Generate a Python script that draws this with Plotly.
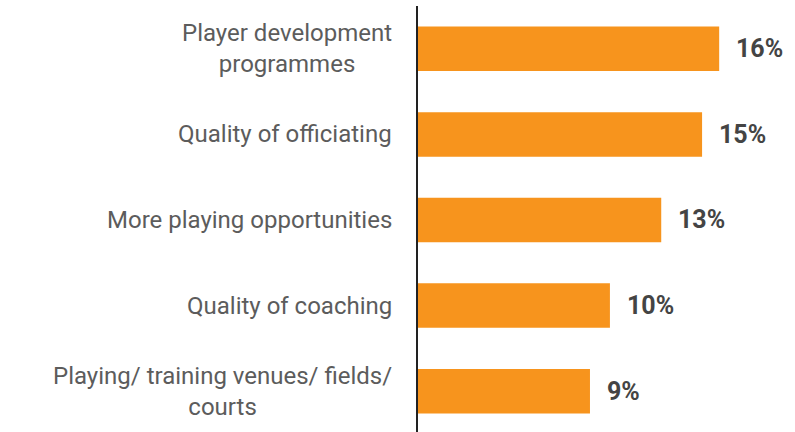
import plotly.graph_objects as go

categories = [
    "Player development<br>programmes",
    "Quality of officiating",
    "More playing opportunities",
    "Quality of coaching",
    "Playing/ training venues/ fields/<br>courts",
]
values = [15.85, 14.95, 12.8, 10.1, 9.05]
value_labels = [f"{round(v)}%" for v in values]

BAR_COLOR = "#F7941D"

fig = go.Figure()
fig.add_trace(go.Bar(
    x=values,
    y=categories,
    orientation="h",
    marker=dict(color=BAR_COLOR, line=dict(width=0)),
    width=0.52,
    hoverinfo="skip",
))

annotations = []
for cat, v, lab in zip(categories, values, value_labels):
    annotations.append(dict(
        x=v, y=cat, xref="x", yref="y", text=lab, showarrow=False,
        xanchor="left", yanchor="middle", xshift=15,
        font=dict(family="Roboto", size=25, color="#444444", weight="bold"),
    ))
    annotations.append(dict(
        x=0, y=cat, xref="x", yref="y", text=cat, showarrow=False,
        xanchor="right", yanchor="middle", xshift=-24, align="center",
        font=dict(family="Roboto", size=24, color="#5c5c5c"),
    ))

fig.update_layout(
    width=795, height=432,
    margin=dict(l=418, r=0, t=6, b=0),
    paper_bgcolor="white", plot_bgcolor="white",
    showlegend=False,
    xaxis=dict(range=[0, 19.84], visible=False, fixedrange=True),
    yaxis=dict(
        type="category", categoryarray=categories,
        range=[4.477, -0.5], fixedrange=True,
        showticklabels=False, showgrid=False, zeroline=False,
        showline=True, linecolor="#222222", linewidth=2, ticks="",
    ),
    annotations=annotations,
)

fig.write_html(
    "out.html",
    config={"displayModeBar": False},
    post_script="document.body.style.margin='0';document.body.style.overflow='hidden';",
)
